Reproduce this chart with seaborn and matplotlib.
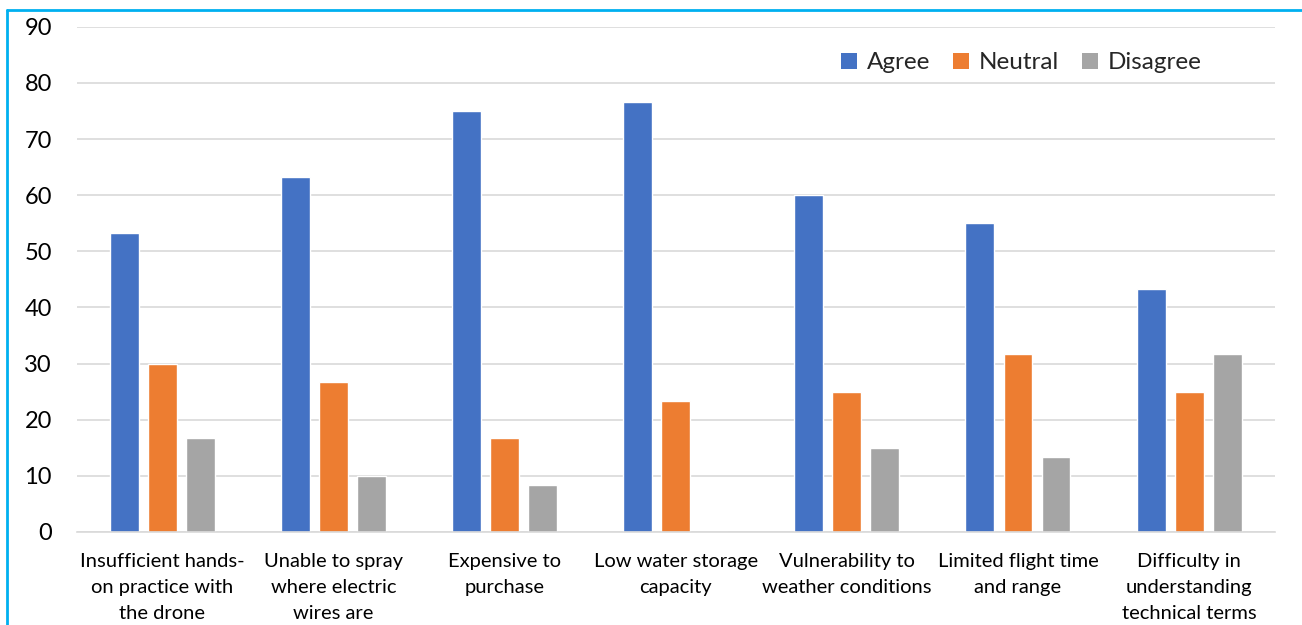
import matplotlib
matplotlib.use("Agg")
import matplotlib.pyplot as plt
from matplotlib.lines import Line2D
from matplotlib.patches import Patch
import seaborn as sns
import pandas as pd

categories = [
    "Insufficient hands-\non practice with\nthe drone",
    "Unable to spray\nwhere electric\nwires are",
    "Expensive to\npurchase",
    "Low water storage\ncapacity",
    "Vulnerability to\nweather conditions",
    "Limited flight time\nand range",
    "Difficulty in\nunderstanding\ntechnical terms",
]
series = ["Agree", "Neutral", "Disagree"]
agree = [53.33, 63.33, 75.0, 76.67, 60.0, 55.0, 43.33]
neutral = [30.0, 26.67, 16.67, 23.33, 25.0, 31.67, 25.0]
disagree = [16.67, 10.0, 8.33, 0.0, 15.0, 13.33, 31.67]
yticks = [0, 10, 20, 30, 40, 50, 60, 70, 80, 90]
colors = ["#4472C4", "#ED7D31", "#A5A5A5"]

df = pd.DataFrame({
    "category": categories * 3,
    "series": [s for s in series for _ in categories],
    "value": agree + neutral + disagree,
})

sns.set_theme(style="white")
plt.rcParams["font.family"] = ["Lato", "DejaVu Sans"]

fig = plt.figure(figsize=(13.02, 6.25), dpi=100)
ax = fig.add_axes([0.059, 0.149, 0.92, 0.808])

sns.barplot(data=df, x="category", y="value", hue="series", order=categories,
            hue_order=series, palette=colors, width=0.667, gap=0.24,
            saturation=1, ax=ax, legend=False, errorbar=None)

ax.set_ylim(0, 90)
ax.set_yticks(yticks)
ax.set_xlim(-0.5, len(categories) - 0.5)
ax.yaxis.grid(True, color="#d9d9d9", linewidth=1.2)
ax.set_axisbelow(True)
for s in ["top", "right", "left"]:
    ax.spines[s].set_visible(False)
ax.spines["bottom"].set_color("#d9d9d9")
ax.spines["bottom"].set_linewidth(1.2)
ax.tick_params(axis="both", length=0, colors="black")
ax.tick_params(axis="y", pad=18, labelsize=17)
ax.tick_params(axis="x", pad=15, labelsize=14.5)
ax.set_xlabel("")
ax.set_ylabel("")
for lbl in ax.get_xticklabels():
    lbl.set_linespacing(1.65)

handles = [Patch(facecolor=c, edgecolor="none") for c in colors]
ax.legend(handles, series, loc="upper right", bbox_to_anchor=(0.957, 0.993),
          ncol=3, frameon=False, fontsize=17.5, handlelength=0.65, handleheight=0.65,
          handletextpad=0.4, columnspacing=0.95)

# cyan frame (left and top edges visible)
fig.add_artist(Line2D([7 / 1302, 7 / 1302], [0, 1 - 10 / 625], transform=fig.transFigure,
                      color="#00B0F0", linewidth=2))
fig.add_artist(Line2D([7 / 1302, 1], [1 - 10 / 625, 1 - 10 / 625], transform=fig.transFigure,
                      color="#00B0F0", linewidth=2))

fig.savefig("out.png", dpi=100)
